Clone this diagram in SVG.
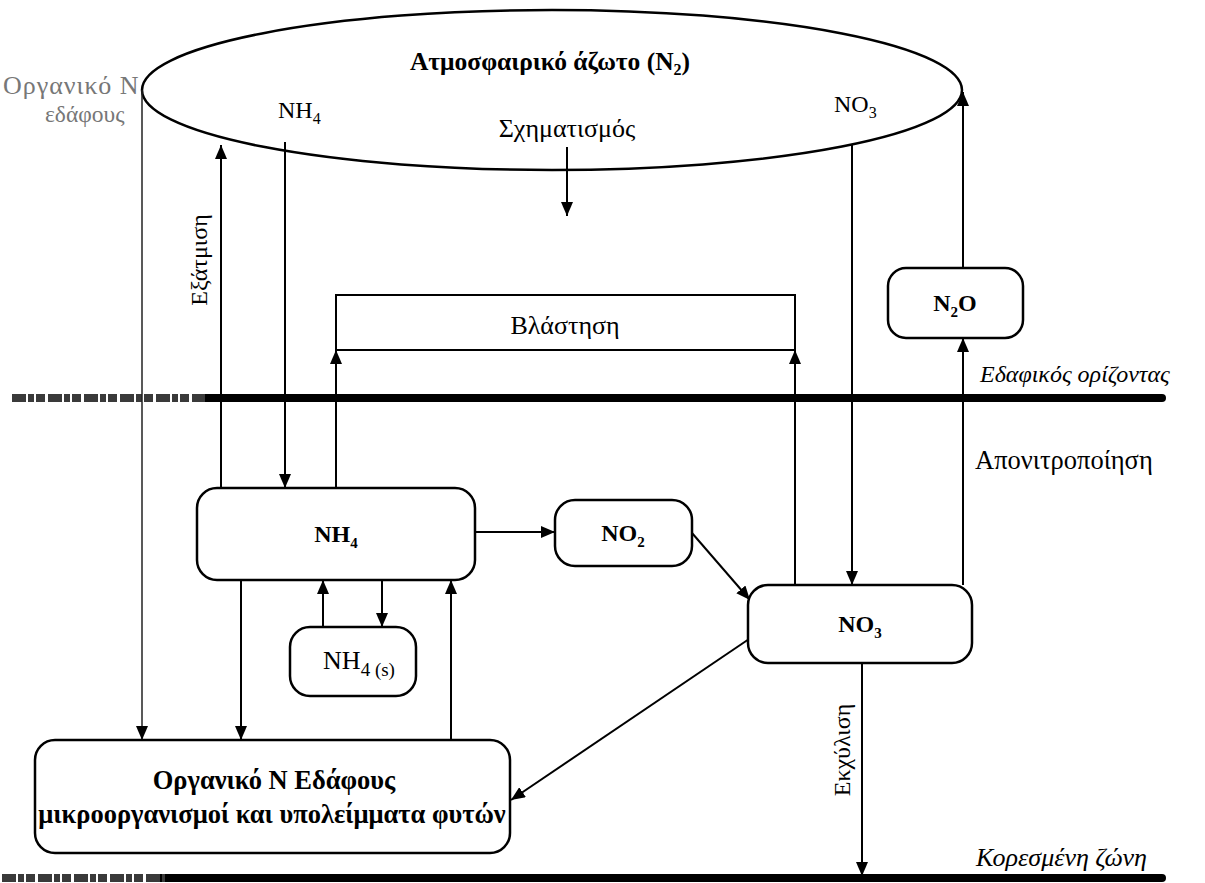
<svg xmlns="http://www.w3.org/2000/svg" width="1205" height="883" viewBox="0 0 1205 883" font-family="'Liberation Serif', 'DejaVu Serif', serif">
<defs>
<marker id="ah" viewBox="0 0 14 12" refX="14" refY="6" markerWidth="14" markerHeight="12" markerUnits="userSpaceOnUse" orient="auto">
<path d="M0,0 L14,6 L0,12 Z" fill="#000"/>
</marker>
</defs>
<style>
text{font-family:'Liberation Serif','DejaVu Serif',serif;fill:#000}
.t{font-size:24px}
.b{font-size:24px;font-weight:bold}
.i{font-size:24px;font-style:italic}
.g{fill:#777}
.box{fill:#fff;stroke:#000;stroke-width:2.5}
.c{fill:none;stroke:#000;stroke-width:2}
.ca{fill:none;stroke:#000;stroke-width:2;marker-end:url(#ah)}
.thin{fill:none;stroke:#222;stroke-width:1.5;marker-end:url(#ah)}
.ground{stroke:#000;stroke-width:8;stroke-linecap:round}
.faded{stroke:#3a3a3a;stroke-width:8;stroke-dasharray:14 2 6 2 9 3}
</style>
<rect width="1205" height="883" fill="#fff"/>

<g id="ground">
<line class="ground" x1="200" y1="398" x2="1162" y2="398"/>
<line class="faded" x1="12" y1="398" x2="205" y2="398"/>
<line class="ground" x1="160" y1="878" x2="1162" y2="878"/>
<line class="faded" x1="2" y1="878" x2="165" y2="878"/>
<text class="i" x="980" y="382">Εδαφικός ορίζοντας</text>
<text class="i" x="976" y="866" style="font-size:26px">Κορεσμένη ζώνη</text>
</g>

<g id="atmosphere">
<ellipse cx="552" cy="90" rx="410" ry="80" fill="none" stroke="#000" stroke-width="2.5"/>
<text class="b" x="550" y="70" text-anchor="middle" style="font-size:25.5px">Ατμοσφαιρικό άζωτο (N<tspan dy="5" font-size="16">2</tspan><tspan dy="-5">)</tspan></text>
<text class="t" x="278" y="118">NH<tspan dy="6" font-size="16">4</tspan></text>
<text class="t" x="834" y="112">NO<tspan dy="6" font-size="16">3</tspan></text>
<text class="t" x="567" y="137" text-anchor="middle" style="font-size:26px">Σχηματισμός</text>
</g>

<g id="organic-label">
<text class="t g" x="3" y="94" style="font-size:26px" letter-spacing="1">Οργανικό Ν</text>
<text class="t g" x="45" y="122" style="font-size:23.5px">εδάφους</text>
</g>

<g id="connectors">
<line class="thin" x1="142" y1="90" x2="142" y2="740"/>
<line class="ca" x1="221" y1="488" x2="221" y2="145"/>
<line class="ca" x1="285" y1="142" x2="285" y2="488"/>
<line class="ca" x1="567" y1="147" x2="567" y2="216"/>
<path class="c" d="M336,350 L336,295 L795,295 L795,350 M336,350 L795,350"/>
<line class="ca" x1="336" y1="488" x2="336" y2="350"/>
<line class="ca" x1="795" y1="585" x2="795" y2="350"/>
<line class="ca" x1="852" y1="144" x2="852" y2="585"/>
<line class="ca" x1="963" y1="585" x2="963" y2="338"/>
<line class="ca" x1="963" y1="268" x2="963" y2="92"/>
<line class="ca" x1="475" y1="532" x2="555" y2="532"/>
<line class="ca" x1="692" y1="533" x2="750" y2="600"/>
<line class="ca" x1="752" y1="637" x2="511" y2="800"/>
<line class="ca" x1="241" y1="580" x2="241" y2="740"/>
<line class="ca" x1="323" y1="627" x2="323" y2="580"/>
<line class="ca" x1="382" y1="580" x2="382" y2="627"/>
<line class="ca" x1="451" y1="740" x2="451" y2="580"/>
<line class="ca" x1="862" y1="662" x2="862" y2="876"/>
</g>

<g id="labels">
<text class="t" transform="translate(207,260) rotate(-90)" text-anchor="middle">Εξάτμιση</text>
<text class="t" x="565" y="334" text-anchor="middle" style="font-size:26px">Βλάστηση</text>
<text class="t" x="975" y="469" style="font-size:26.5px">Απονιτροποίηση</text>
<text class="t" transform="translate(850,750) rotate(-90)" text-anchor="middle">Εκχύλιση</text>
</g>

<g id="node-nh4">
<rect class="box" x="197" y="488" width="278" height="92" rx="20"/>
<text class="b" x="336" y="542" text-anchor="middle">NH<tspan dy="6" font-size="15">4</tspan></text>
</g>
<g id="node-nh4s">
<rect class="box" x="290" y="627" width="126" height="69" rx="20"/>
<text class="t" x="359" y="669" text-anchor="middle" style="font-size:26px">NH<tspan dy="7" font-size="19">4 (s)</tspan></text>
</g>
<g id="node-no2">
<rect class="box" x="555" y="500" width="137" height="66" rx="20"/>
<text class="b" x="623" y="541" text-anchor="middle">NO<tspan dy="6" font-size="15">2</tspan></text>
</g>
<g id="node-no3">
<rect class="box" x="748" y="585" width="224" height="78" rx="20"/>
<text class="b" x="860" y="632" text-anchor="middle">NO<tspan dy="6" font-size="15">3</tspan></text>
</g>
<g id="node-n2o">
<rect class="box" x="888" y="268" width="135" height="70" rx="18"/>
<text class="b" x="955" y="311" text-anchor="middle">N<tspan dy="6" font-size="15">2</tspan><tspan dy="-6">O</tspan></text>
</g>
<g id="node-organic">
<rect class="box" x="35" y="740" width="475" height="113" rx="20"/>
<text class="b" x="274" y="789" text-anchor="middle" style="font-size:26.5px">Οργανικό Ν Εδάφους</text>
<text class="b" x="272" y="823" text-anchor="middle" style="font-size:26.5px">μικροοργανισμοί και  υπολείμματα φυτών</text>
</g>
</svg>
